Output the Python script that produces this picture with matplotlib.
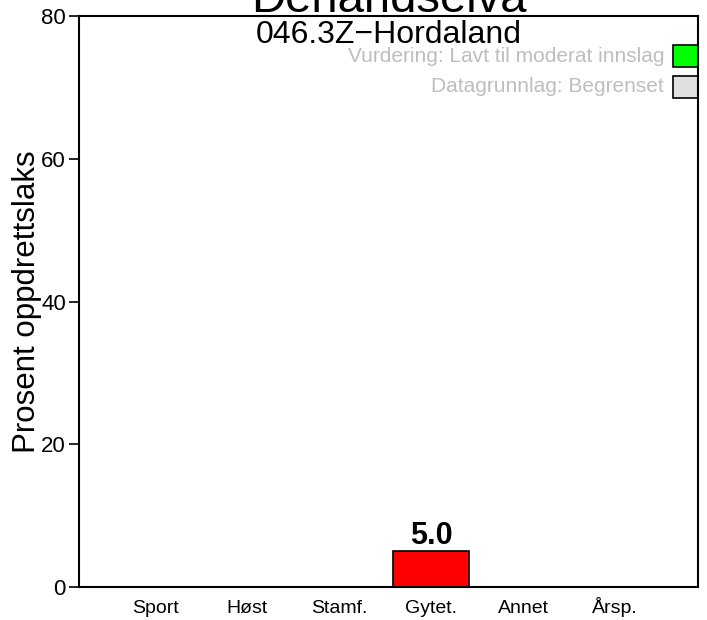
import matplotlib
matplotlib.use('Agg')
import matplotlib.pyplot as plt
from matplotlib.patches import Rectangle

plt.rcParams['font.family'] = ['Liberation Sans', 'DejaVu Sans']

categories = ['Sport', 'Høst', 'Stamf.', 'Gytet.', 'Annet', 'Årsp.']
values = [0, 0, 0, 5.0, 0, 0]
bar_colors = ['red'] * 6
title = 'Dehandselva'
subtitle = '046.3Z\u2212Hordaland'
legend_labels = ['Vurdering: Lavt til moderat innslag', 'Datagrunnlag: Begrenset']
legend_colors = ['#00FF00', '#E0E0E0']

fig = plt.figure(figsize=(7.07, 6.2), dpi=100)
ax = fig.add_axes([79/707, 1 - 587/620, 619/707, 571/620])

x = list(range(len(categories)))
for xi, v, c in zip(x, values, bar_colors):
    if v > 0:
        ax.bar(xi, v, width=0.833, color=c, edgecolor='black', linewidth=1.2)
        ax.text(xi, v + 1.0, f'{v:.1f}', ha='center', va='baseline',
                fontsize=22, fontweight='bold')

ax.set_xlim(-0.826, 5.9)
ax.set_ylim(0, 80)
ax.set_yticks([0, 20, 40, 60, 80])
ax.set_xticks(x)
ax.set_xticklabels(categories, fontsize=14, va='baseline')
ax.tick_params(axis='x', length=0, pad=18.5)
ax.tick_params(axis='y', labelsize=16, length=7, width=1.2, pad=2.5)
for s in ax.spines.values():
    s.set_linewidth(1.5)

ax.set_ylabel('Prosent oppdrettslaks', fontsize=22.5, va='center')
ax.yaxis.set_label_coords((27 - 79) / 619, 0.5)

fig.text(388.5/707, 1 - 12/620, title, ha='center', va='baseline', fontsize=34)
ax.text(0.5, 1 - (43 - 16) / 571, subtitle, transform=ax.transAxes, ha='center',
        va='baseline', fontsize=23)

# legend-ish boxes on the right
for i, (lab, col) in enumerate(zip(legend_labels, legend_colors)):
    yc = 1 - (56 + 31 * i - 16) / 571
    ax.text((664 - 79) / 619, yc, lab, transform=ax.transAxes, ha='right',
            va='center', fontsize=15, color='#BEBEBE')
    ax.add_patch(Rectangle(((673 - 79) / 619, yc - 11 / 571), 25 / 619, 22 / 571,
                           transform=ax.transAxes, facecolor=col,
                           edgecolor='black', linewidth=1.2, clip_on=False))

plt.savefig('out.png', dpi=100)
